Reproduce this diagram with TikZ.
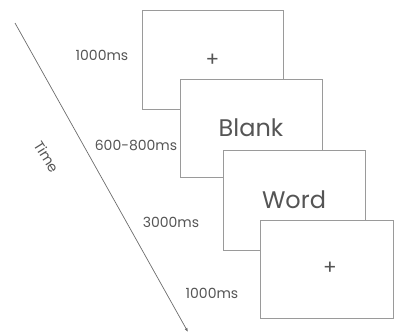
\documentclass[tikz,border=0pt]{standalone}
\usepackage{fontspec}
\setmainfont{Poppins}
\usetikzlibrary{arrows.meta}
\definecolor{frame}{HTML}{9A9A9A}
\definecolor{ink}{HTML}{555555}
\tikzset{
  screen/.style={draw=frame, line width=0.9pt, fill=white},
  dur/.style={text=ink, font=\fontsize{14}{16}\selectfont, inner sep=0pt},
  stim/.style={text=ink, inner sep=0pt},
}
\begin{document}
\begin{tikzpicture}[x=1pt,y=-1pt]
\useasboundingbox (0,0) rectangle (394,333);
% time axis
\coordinate (t0) at (15,23);
\coordinate (t1) at (188,332);
\draw[frame!70!black, line width=0.7pt, -{Latex[length=4pt,width=3pt]}] (t0) -- (t1);
\node[dur, rotate=-58] (time) at (47,157) {Time};
% stacked screens
\draw[screen] (142,10) rectangle (283,109);
\node[stim, font=\fontsize{20}{22}\selectfont] (fix1) at (212.5,60) {+};
\draw[screen] (180,79) rectangle (322,177);
\node[stim, font=\fontsize{24}{26}\selectfont] (blank) at (251,128) {Blank};
\draw[screen] (223,150) rectangle (365,250);
\node[stim, font=\fontsize{24}{26}\selectfont] (word) at (294,200) {Word};
\draw[screen] (260,220) rectangle (393,318);
\node[stim, font=\fontsize{20}{22}\selectfont] (fix2) at (330,268) {+};
% durations
\node[dur] (d1) at (102,55) {1000ms};
\node[dur] (d2) at (136,145) {600-800ms};
\node[dur] (d3) at (171,222) {3000ms};
\node[dur] (d4) at (212,293) {1000ms};
\end{tikzpicture}
\end{document}
